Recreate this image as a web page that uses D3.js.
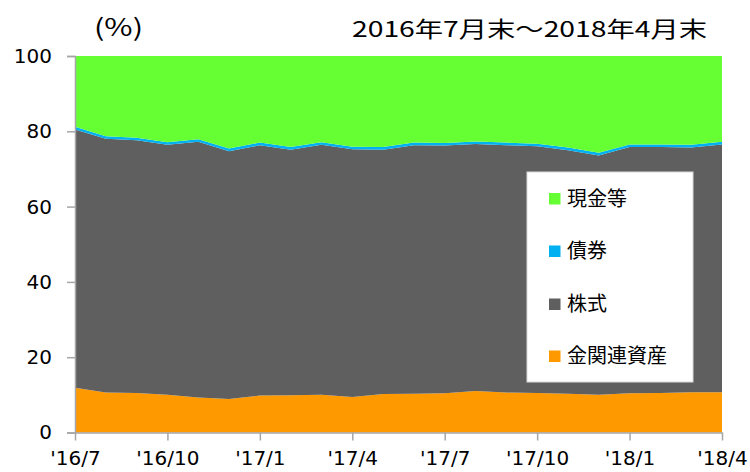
<!DOCTYPE html>
<html>
<head>
<meta charset="utf-8">
<script src="https://cdn.jsdelivr.net/npm/d3@7"></script>
<style>
  html, body { margin: 0; padding: 0; background: #fff; }
  svg { display: block; }
</style>
</head>
<body>
<svg id="chart" width="750" height="472"></svg>
<script>
// ---- data ----
const months = ["2016/7","2016/8","2016/9","2016/10","2016/11","2016/12","2017/1","2017/2","2017/3","2017/4","2017/5","2017/6","2017/7","2017/8","2017/9","2017/10","2017/11","2017/12","2018/1","2018/2","2018/3","2018/4"];
const tickLabels = ["'16/7","'16/10","'17/1","'17/4","'17/7","'17/10","'18/1","'18/4"];
const yTicks = [0, 20, 40, 60, 80, 100];
const gold  = [11.9, 10.6, 10.5, 10.0, 9.3, 8.9, 9.8, 9.9, 10.0, 9.4, 10.2, 10.3, 10.4, 11.0, 10.6, 10.5, 10.3, 10.0, 10.4, 10.5, 10.7, 10.7];
const stock = [68.6, 67.4, 67.1, 66.4, 67.9, 65.8, 66.5, 65.2, 66.4, 65.8, 64.9, 66.0, 65.8, 65.6, 65.7, 65.5, 64.7, 63.6, 65.4, 65.3, 65.0, 65.8];
const bond  = [0.7, 0.7, 0.7, 0.7, 0.7, 0.7, 0.7, 0.7, 0.7, 0.7, 0.7, 0.7, 0.7, 0.7, 0.7, 0.7, 0.7, 0.7, 0.7, 0.7, 0.7, 0.7];
const cash  = [18.8, 21.3, 21.7, 22.9, 22.1, 24.6, 23.0, 24.2, 22.9, 24.1, 24.2, 23.0, 23.1, 22.7, 23.0, 23.3, 24.3, 25.7, 23.5, 23.5, 23.6, 22.8];
const seriesNames = ["金関連資産", "株式", "債券", "現金等"];
const seriesColors = ["#ff9900", "#5f5f5f", "#00b0f0", "#66ff33"];
const legendOrder = ["現金等", "債券", "株式", "金関連資産"];

// ---- build table ----
const keys = ["gold", "stock", "bond", "cash"];
const table = months.map((m, i) => ({ i, gold: gold[i], stock: stock[i], bond: bond[i], cash: cash[i] }));

const svg = d3.select("#chart");
const mLeft = 75, mRight = 722, mTop = 56, mBottom = 432.5;

const x = d3.scaleLinear().domain([0, months.length - 1]).range([mLeft, mRight]);
const y = d3.scaleLinear().domain([0, 100]).range([mBottom, mTop]);

const stack = d3.stack().keys(keys);
const layers = stack(table);

const area = d3.area()
  .x(d => x(d.data.i))
  .y0(d => y(d[0]))
  .y1(d => y(Math.min(100, d[1])));

svg.append("g").selectAll("path")
  .data(layers)
  .join("path")
  .attr("d", area)
  .attr("fill", (d, k) => seriesColors[k]);

// ---- axes ----
const axisColor = "#a6a6a6";
const yAxis = d3.axisLeft(y).tickValues(yTicks).tickSize(8).tickPadding(15);
const gy = svg.append("g").attr("transform", `translate(${mLeft},0)`).call(yAxis);
gy.select(".domain").attr("stroke", axisColor).attr("stroke-width", 1.5);
gy.selectAll(".tick line").attr("stroke", axisColor).attr("stroke-width", 1.5);
gy.selectAll(".tick text")
  .attr("font-family", "DejaVu Sans, Verdana, sans-serif")
  .attr("font-size", 20).attr("fill", "#000");

const tickIdx = tickLabels.map((t, k) => k * 3);
const xAxis = d3.axisBottom(x).tickValues(tickIdx)
  .tickFormat((d, k) => tickLabels[k]).tickSize(8).tickPadding(10).tickSizeOuter(0);
const gx = svg.append("g").attr("transform", `translate(0,${mBottom})`).call(xAxis);
gx.select(".domain").attr("stroke", axisColor).attr("stroke-width", 1.5);
gx.selectAll(".tick line").attr("stroke", axisColor).attr("stroke-width", 1.5);
gx.selectAll(".tick text")
  .attr("font-family", "DejaVu Sans, Verdana, sans-serif")
  .attr("font-size", 20).attr("fill", "#000");

// ---- titles ----
const cjk = "'Noto Sans CJK JP', sans-serif";
svg.append("text").attr("x", 94).attr("y", 36)
  .attr("font-family", cjk).attr("font-size", 24).attr("fill", "#000")
  .attr("textLength", 49).attr("lengthAdjust", "spacingAndGlyphs")
  .text("(%)");
svg.append("text").attr("x", 352).attr("y", 37)
  .attr("font-family", cjk).attr("font-size", 22).attr("fill", "#000")
  .attr("textLength", 355).attr("lengthAdjust", "spacingAndGlyphs")
  .text("2016年7月末～2018年4月末");

// ---- legend ----
const lg = svg.append("g");
lg.append("rect").attr("x", 527).attr("y", 172).attr("width", 166).attr("height", 210)
  .attr("fill", "#fff").attr("stroke", "#d9d9d9").attr("stroke-width", 1);
const legendY = [198.5, 251, 304, 356];
legendOrder.forEach((name, k) => {
  const ci = seriesNames.indexOf(name);
  lg.append("rect").attr("x", 549).attr("y", legendY[k] - 5.5).attr("width", 11.5).attr("height", 11.5)
    .attr("fill", seriesColors[ci]);
  lg.append("text").attr("x", 567).attr("y", legendY[k]).attr("dy", "0.35em")
    .attr("font-family", cjk).attr("font-size", 20).attr("fill", "#000")
    .text(name);
});
</script>
</body>
</html>
